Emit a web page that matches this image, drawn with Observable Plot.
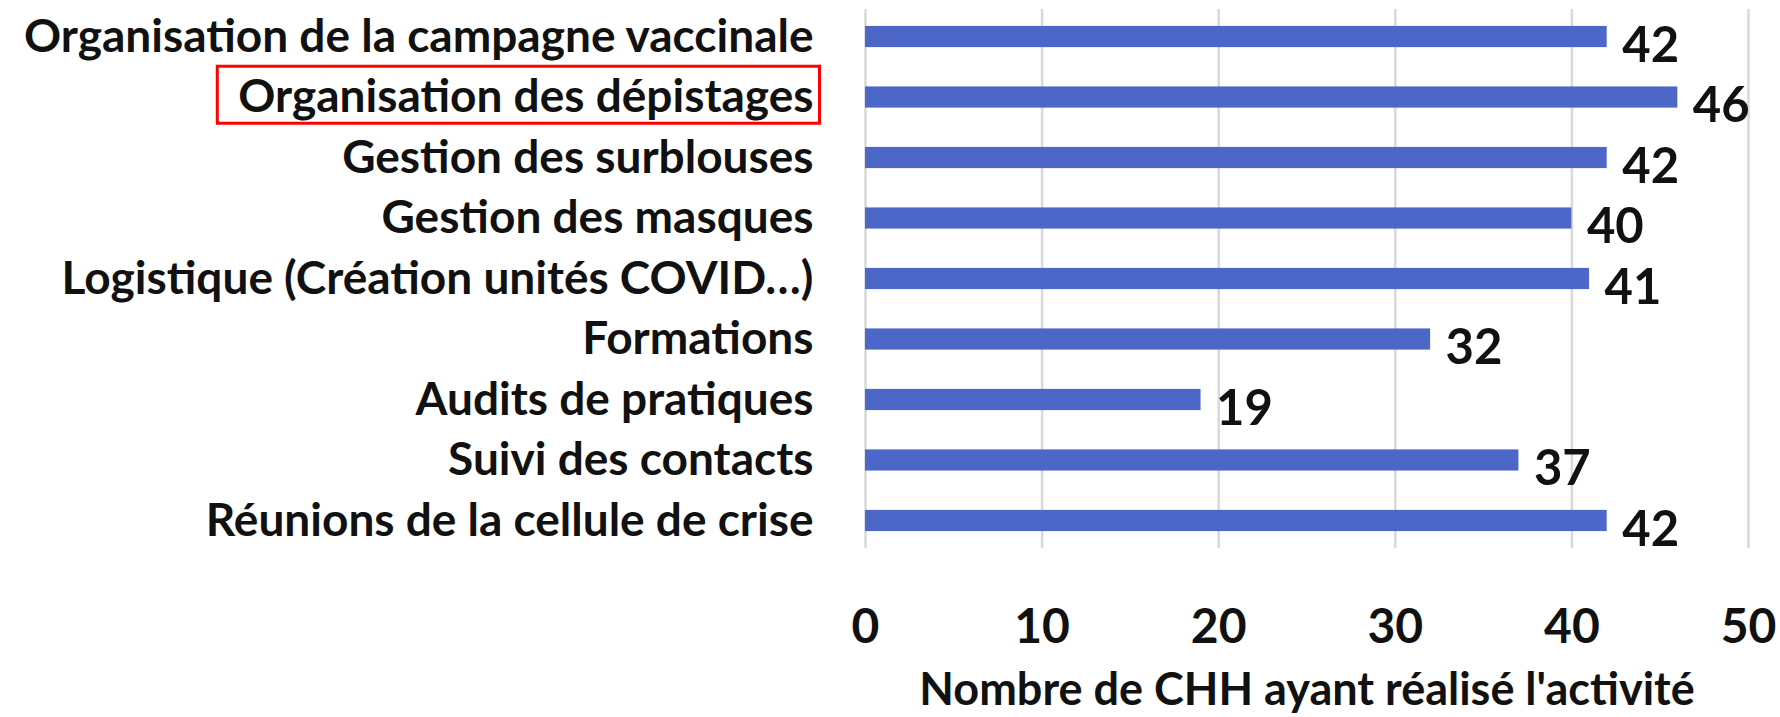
<!DOCTYPE html>
<html>
<head>
<meta charset="utf-8">
<script src="https://cdn.jsdelivr.net/npm/d3@7"></script>
<script src="https://cdn.jsdelivr.net/npm/@observablehq/plot@0.6"></script>
<style>
  html, body { margin: 0; padding: 0; background: #fff; }
</style>
</head>
<body>
<div id="chart"></div>
<script>
const categories = [
  "Organisation de la campagne vaccinale",
  "Organisation des dépistages",
  "Gestion des surblouses",
  "Gestion des masques",
  "Logistique (Création unités COVID…)",
  "Formations",
  "Audits de pratiques",
  "Suivi des contacts",
  "Réunions de la cellule de crise"
];
const values = [42, 46, 42, 40, 41, 32, 19, 37, 42];
const xTicks = [0, 10, 20, 30, 40, 50];
const xTitle = "Nombre de CHH ayant réalisé l'activité";
const highlighted = "Organisation des dépistages";

const data = categories.map((c, i) => ({category: c, value: values[i]}));

const font = "Lato, 'Open Sans', sans-serif";

const chart = Plot.plot({
  width: 1780,
  height: 717,
  marginLeft: 865,
  marginRight: 32,
  marginTop: 9,
  marginBottom: 169,
  style: {fontFamily: font, fontWeight: "bold", color: "#111", background: "#fff"},
  x: {domain: [0, 50]},
  y: {domain: categories, paddingInner: 0.65, paddingOuter: 0.28, round: false},
  marks: [
    Plot.gridX(xTicks, {stroke: "#d9d9d9", strokeOpacity: 1, strokeWidth: 2.5}),
    Plot.barX(data, {x: "value", y: "category", fill: "#4d67c8"}),
    Plot.text(data, {x: "value", y: "category", text: d => String(d.value), textAnchor: "start", dx: 15, dy: 9, fontSize: 49, fontWeight: "bold", fill: "#111"}),
    Plot.axisY({tickSize: 0, tickPadding: 52, fontSize: 46, fontWeight: "bold", label: null}),
    Plot.axisX({ticks: xTicks, tickSize: 0, tickPadding: 60, fontSize: 48, fontWeight: "bold", label: null}),
    Plot.text([xTitle], {frameAnchor: "bottom", text: d => d, lineAnchor: "bottom", dy: 156, fontSize: 45, fontWeight: "bold", fill: "#111"})
  ]
});

document.getElementById("chart").appendChild(chart);

// Red highlight box around the highlighted category label, sized from its rendered bbox
const svgRect = chart.getBoundingClientRect();
chart.querySelectorAll("text").forEach(t => {
  if (t.textContent === highlighted) {
    const r = t.getBoundingClientRect();
    const rect = document.createElementNS("http://www.w3.org/2000/svg", "rect");
    rect.setAttribute("x", r.left - svgRect.left - 21);
    rect.setAttribute("y", r.top - svgRect.top - 1);
    rect.setAttribute("width", r.width + 27);
    rect.setAttribute("height", r.height + 2);
    rect.setAttribute("fill", "none");
    rect.setAttribute("stroke", "#ff0000");
    rect.setAttribute("stroke-width", 3);
    chart.appendChild(rect);
  }
});
</script>
</body>
</html>
